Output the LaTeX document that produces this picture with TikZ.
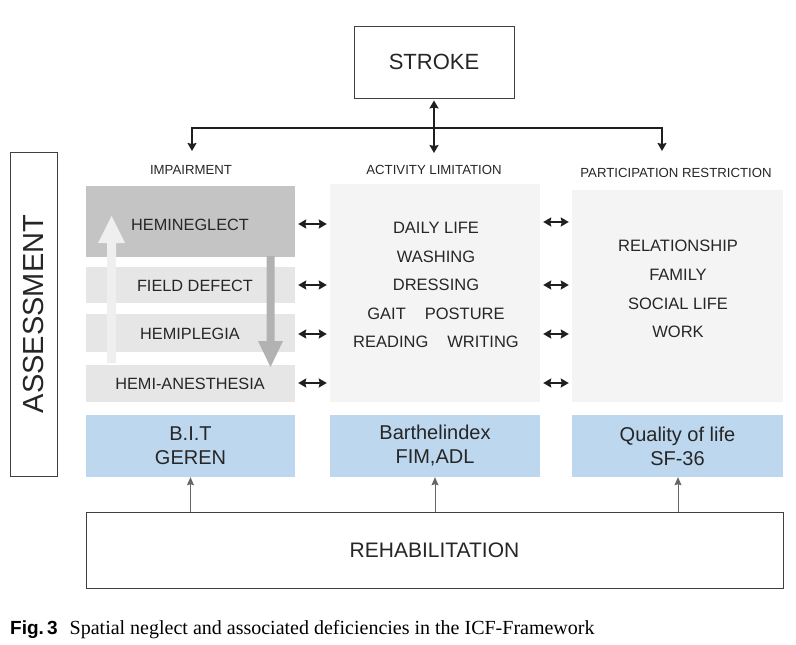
\documentclass[tikz,border=0pt]{standalone}
\usepackage{fontspec}
\setmainfont{Liberation Sans}
\newfontfamily\capserif{Liberation Serif}
\usetikzlibrary{arrows.meta,calc}
\definecolor{txt}{HTML}{262626}
\definecolor{darkbox}{HTML}{C4C4C4}
\definecolor{lightbox}{HTML}{E6E6E6}
\definecolor{palebox}{HTML}{F4F4F4}
\definecolor{bluebox}{HTML}{BDD7EE}
\definecolor{uparr}{HTML}{EFEFEF}
\definecolor{downarr}{HTML}{B2B2B2}
\definecolor{thinarr}{HTML}{666666}
\tikzset{
  outlined/.style={draw=black!75, line width=0.9pt, fill=white, text=txt, inner sep=0pt},
  filledbox/.style={draw=none, inner sep=0pt, text=txt},
  fs/.style={font=\fontsize{#1}{#1}\selectfont},
  biarrow/.style={{Stealth[length=8pt,width=9pt,inset=1pt]}-{Stealth[length=8pt,width=9pt,inset=1pt]}, line width=1.7pt, black!88},
  treearrow/.style={-{Stealth[length=8pt,width=9pt,inset=1pt]}, line width=1.7pt, black!88},
  riserarrow/.style={-{Stealth[length=8pt,width=7pt,inset=1pt]}, line width=1pt, thinarr},
}
\begin{document}
\begin{tikzpicture}[x=1pt,y=-1pt]
\useasboundingbox (0,0) rectangle (796,645);

% top
\node[outlined, minimum width=160, minimum height=72, fs=22] (stroke) at (434,62) {STROKE};
\coordinate (junc) at (434,128);
\coordinate (lft) at (192,128);
\coordinate (rgt) at (662,128);

% headers
\node[text=txt, fs=13.2, inner sep=0pt] (himp) at (191,170) {IMPAIRMENT};
\node[text=txt, fs=13.2, inner sep=0pt] (hact) at (434,170) {ACTIVITY LIMITATION};
\node[text=txt, fs=13.2, inner sep=0pt] (hpar) at (676,173) {PARTICIPATION RESTRICTION};

\draw[line width=1.7pt, black!88] (lft) -- (rgt);
\draw[treearrow] ($(lft)+(0,-0.85)$) -- (192,151);
\draw[treearrow] ($(rgt)+(0,-0.85)$) -- (662,151);
\draw[biarrow] ($(stroke.south)+(0,2)$) -- (434,153);

% assessment
\node[outlined, minimum width=47, minimum height=324] (assess) at (33.5,314) {};
\node[rotate=90, text=txt, fs=29, inner sep=0pt] (assesstxt) at (assess.center) {ASSESSMENT};

% impairment column
\node[filledbox, fill=darkbox, minimum width=209, minimum height=71] (hn) at (190.5,221.5) {};
\node[filledbox, fill=lightbox, minimum width=209, minimum height=36] (fd) at (190.5,285) {};
\node[filledbox, fill=lightbox, minimum width=209, minimum height=38] (hp) at (190.5,333) {};
\node[filledbox, fill=lightbox, minimum width=209, minimum height=37] (ha) at (190.5,383.5) {};

% block arrows
\fill[uparr] (107,363) -- (107,243) -- (98,243) -- (111.5,216) -- (125,243) -- (116,243) -- (116,363) -- cycle;
\fill[downarr] (266.5,256) -- (266.5,341) -- (258,341) -- (270.5,367) -- (283,341) -- (274.5,341) -- (274.5,256) -- cycle;

\node[text=txt, fs=16.3, inner sep=0pt] (hntxt) at (190,225) {HEMINEGLECT};
\node[text=txt, fs=16.3, inner sep=0pt] (fdtxt) at (195,286) {FIELD DEFECT};
\node[text=txt, fs=16.3, inner sep=0pt] (hptxt) at (190,334) {HEMIPLEGIA};
\node[text=txt, fs=16.3, inner sep=0pt] (hatxt) at (190,384) {HEMI-ANESTHESIA};

% activity column
\node[filledbox, fill=palebox, minimum width=210, minimum height=218] (act) at (435,293) {};
\node[text=txt, align=center, inner sep=0pt, font=\fontsize{16.5}{28.5}\selectfont] (acttxt) at (436,285)
  {DAILY LIFE\\WASHING\\DRESSING\\GAIT\hspace{19pt}POSTURE\\READING\hspace{19pt}WRITING};

% participation column
\node[filledbox, fill=palebox, minimum width=211, minimum height=212] (par) at (677.5,296) {};
\node[text=txt, align=center, inner sep=0pt, font=\fontsize{16.5}{28.7}\selectfont] (partxt) at (678,289)
  {RELATIONSHIP\\FAMILY\\SOCIAL LIFE\\WORK};

% bidirectional arrows
\draw[biarrow] ($(hn.east |- 0,224)+(3,0)$) -- ($(act.west |- 0,224)+(-3,0)$);
\draw[biarrow] ($(fd.east |- 0,285)+(3,0)$) -- ($(act.west |- 0,285)+(-3,0)$);
\draw[biarrow] ($(hp.east |- 0,334)+(3,0)$) -- ($(act.west |- 0,334)+(-3,0)$);
\draw[biarrow] ($(ha.east |- 0,383)+(3,0)$) -- ($(act.west |- 0,383)+(-3,0)$);
\draw[biarrow] ($(act.east |- 0,222)+(3,0)$) -- ($(par.west |- 0,222)+(-3,0)$);
\draw[biarrow] ($(act.east |- 0,285)+(3,0)$) -- ($(par.west |- 0,285)+(-3,0)$);
\draw[biarrow] ($(act.east |- 0,334)+(3,0)$) -- ($(par.west |- 0,334)+(-3,0)$);
\draw[biarrow] ($(act.east |- 0,383)+(3,0)$) -- ($(par.west |- 0,383)+(-3,0)$);

% assessment tools
\node[filledbox, fill=bluebox, minimum width=209, minimum height=62, align=center, font=\fontsize{20}{24}\selectfont] (bit) at (190.5,446) {B.I.T\\GEREN};
\node[filledbox, fill=bluebox, minimum width=210, minimum height=62, align=center, font=\fontsize{20}{24}\selectfont] (bart) at (435,446) {Barthelindex\\FIM,ADL};
\node[filledbox, fill=bluebox, minimum width=211, minimum height=62, align=center, font=\fontsize{20}{24}\selectfont] (qol) at (677.5,446) {Quality of life\\SF-36};

% rehabilitation
\node[outlined, minimum width=697, minimum height=76, fs=21] (rehab) at (434.5,550) {REHABILITATION};
\draw[riserarrow] (rehab.north -| bit.south) -- (bit.south);
\draw[riserarrow] (rehab.north -| bart.south) -- (bart.south);
\draw[riserarrow] (rehab.north -| 678,0) -- (qol.south -| 678,0);

% caption
\node[anchor=base west, inner sep=0pt, text=black] (cap) at (10,634)
  {\fontsize{19}{19}\selectfont\textbf{Fig.\,3}\hspace{12pt}\capserif\fontsize{20}{20}\selectfont Spatial neglect and associated deficiencies in the ICF-Framework};
\end{tikzpicture}
\end{document}
